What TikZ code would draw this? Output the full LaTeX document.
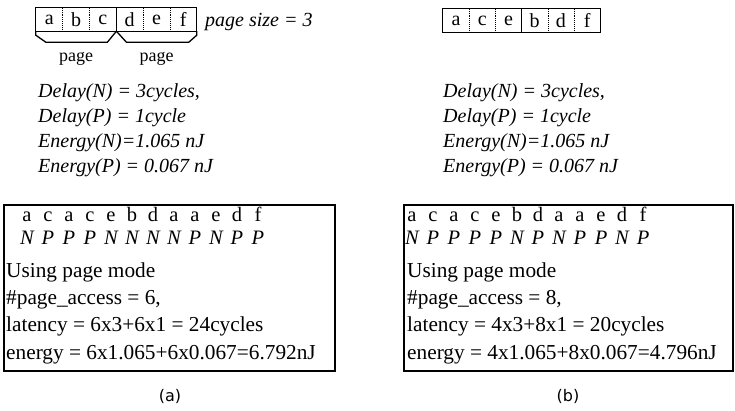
\documentclass[tikz,border=0pt]{standalone}
\usepackage{fontspec}
\setmainfont{Liberation Serif}
\newfontfamily\capfont{DejaVu Sans}
\usetikzlibrary{positioning,calc}

\begin{document}
\begin{tikzpicture}[x=1pt, y=-1pt,
  boxline/.style={line width=1.3pt},
  cell/.style={minimum width=26.6pt, minimum height=23pt, inner sep=0pt, font=\fontsize{20}{24}\selectfont},
  seqtxt/.style={anchor=base, inner sep=0pt, font=\fontsize{20.5}{24}\selectfont},
  pagetxt/.style={anchor=base, inner sep=0pt, font=\fontsize{18}{22}\selectfont},
  costtxt/.style={anchor=base west, inner sep=0pt, font=\fontsize{20}{24}\selectfont\itshape},
  modetxt/.style={anchor=base west, inner sep=0pt, font=\fontsize{21.3}{24}\selectfont},
  captxt/.style={inner sep=0pt, font=\capfont\fontsize{16}{19}\selectfont}]
\useasboundingbox (0,0) rectangle (735,410);
\foreach \i/\lab in {0/a,1/b,2/c,3/d,4/e,5/f} {
  \pgfmathsetmacro{\x}{36+13.3+\i*26.8}
  \node[cell] (l\lab) at (\x,19.5) {\lab};
}
\draw[boxline] (la.north west) rectangle (lf.south east);
\draw[boxline] (lc.north east) -- (lc.south east);
\foreach \c in {la,lb,ld,le}
  \draw[densely dotted, line width=0.9pt] (\c.north east) -- (\c.south east);
\draw[boxline] (la.south west) -- ++(0,4) -- ++(10,7) -- ($(lc.south east)+(-9,11)$)
  -- (lc.south east) -- ++(10,11) -- ($(lf.south east)+(-8,11)$) -- ++(8,-7) -- (lf.south east);
\node[pagetxt] (pg1) at ($(lb.south)+(0,30)$) {page};
\node[pagetxt] (pg2) at ($(le.south)+(0,30)$) {page};
\node[costtxt] (psz) at (205,26) {page size = 3};
\foreach \i/\lab in {0/a,1/c,2/e,3/b,4/d,5/f} {
  \pgfmathsetmacro{\x}{443+13.1+\i*26.2}
  \node[cell, minimum width=26.2pt] (r\lab) at (\x,20.5) {\lab};
}
\draw[boxline] (ra.north west) rectangle (rf.south east);
\draw[boxline] (re.north east) -- (re.south east);
\foreach \c in {ra,rc,rb,rd}
  \draw[densely dotted, line width=0.9pt] (\c.north east) -- (\c.south east);
\foreach \s/\x in {l/38,r/443} {
  \node[costtxt] (\s-dn) at (\x,97) {Delay(N) = 3cycles,};
  \node[costtxt] (\s-dp) at (\x,122) {Delay(P) = 1cycle};
  \node[costtxt] (\s-en) at (\x,147) {Energy(N)=1.065 nJ};
  \node[costtxt] (\s-ep) at (\x,172) {Energy(P) = 0.067 nJ};
}
\draw[boxline] (4,205) rectangle (335,371);
\draw[boxline] (404,205) rectangle (733,371);
\foreach \i/\c/\pl/\pr in {0/a/N/N,1/c/P/P,2/a/P/P,3/c/P/P,4/e/N/P,5/b/N/N,
                           6/d/N/P,7/a/N/N,8/a/P/P,9/e/N/P,10/d/P/N,11/f/P/P} {
  \node[seqtxt] (lc\i) at ({27+\i*21},221) {\c};
  \node[seqtxt] (lm\i) at ({27+\i*21},244) {\itshape\pl};
  \node[seqtxt] (rc\i) at ({412+\i*21},221) {\c};
  \node[seqtxt] (rm\i) at ({412+\i*21},244) {\itshape\pr};
}
\node[modetxt] (l-use) at (6,277) {Using page mode};
\node[modetxt] (l-acc) at (6,304) {\#page\_access = 6,};
\node[modetxt] (l-lat) at (6,331) {latency = 6x3+6x1 = 24cycles};
\node[modetxt] (l-eng) at (6,359) {energy = 6x1.065+6x0.067=6.792nJ};
\node[modetxt] (r-use) at (407,277) {Using page mode};
\node[modetxt] (r-acc) at (407,304) {\#page\_access = 8,};
\node[modetxt] (r-lat) at (407,331) {latency = 4x3+8x1 = 20cycles};
\node[modetxt] (r-eng) at (407,359) {energy = 4x1.065+8x0.067=4.796nJ};
\node[captxt] (capa) at (170,396) {(a)};
\node[captxt] (capb) at (568,396) {(b)};
\end{tikzpicture}
\end{document}
